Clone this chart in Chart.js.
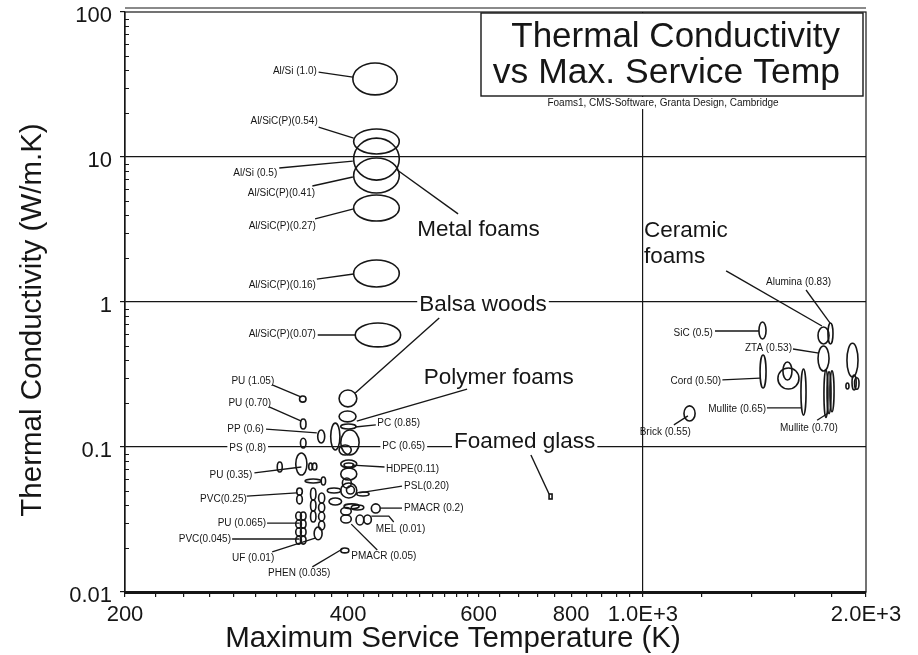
<!DOCTYPE html>
<html>
<head>
<meta charset="utf-8">
<script src="https://cdn.jsdelivr.net/npm/chart.js@4.4.1/dist/chart.umd.min.js"></script>
<style>
  html, body { margin: 0; padding: 0; background: #fff; }
  canvas { display: block; }
</style>
</head>
<body>
<canvas id="chart" width="918" height="655"></canvas>
<script>
// ranges: [T min, T max, k min, k max]  (K, W/m.K)
const metalFoams = [
  [406, 466, 26.8, 44.5],   // Al/Si (1.0)
  [407, 469, 10.5, 15.6],   // Al/SiC(P)(0.54)
  [407, 469, 6.93, 13.5],   // Al/Si (0.5)
  [407, 469, 5.65, 9.84],   // Al/SiC(P)(0.41)
  [407, 469, 3.62, 5.47],   // Al/SiC(P)(0.27)
  [407, 469, 1.27, 1.95],   // Al/SiC(P)(0.16)
  [409, 471, 0.49, 0.716]   // Al/SiC(P)(0.07)
];

const polymerFoams = [
  [389, 411, 0.189, 0.247], // balsa
  [389, 410, 0.149, 0.177],
  [391, 410, 0.133, 0.144], // PC (0.85)
  [379, 390, 0.0953, 0.146],
  [391, 414, 0.0881, 0.131], // PC (0.65)
  [389, 404, 0.0881, 0.1032],
  [391, 411, 0.0717, 0.0813],
  [395, 407, 0.0728, 0.0776], // HDPE
  [391, 411, 0.0592, 0.0717],
  [391, 411, 0.0445, 0.0565],
  [393, 404, 0.0522, 0.0611],
  [398, 408, 0.0474, 0.0538],
  [411, 427, 0.0459, 0.0489], // PSL
  [375, 391, 0.0482, 0.0522],
  [377, 392, 0.0398, 0.0445],
  [395, 414, 0.0375, 0.0405],
  [404, 420, 0.0368, 0.0398],
  [430, 442, 0.0351, 0.0405], // PMACR (0.2)
  [391, 404, 0.0340, 0.0383],
  [391, 404, 0.0299, 0.0340],
  [410, 420, 0.0290, 0.0340], // MEL
  [420, 430, 0.0294, 0.0340],
  [391, 401, 0.0186, 0.0201], // PHEN
  [360, 369, 0.0229, 0.0281], // UF
  [356, 362, 0.0431, 0.0522],
  [356, 362, 0.0362, 0.0431],
  [356, 362, 0.0304, 0.0362],
  [365, 372, 0.0411, 0.0482],
  [365, 372, 0.0356, 0.0411],
  [365, 372, 0.0309, 0.0356],
  [365, 372, 0.0268, 0.0309],
  [340, 346, 0.0314, 0.0356], // PU (0.065) / PVC (0.045)
  [340, 346, 0.0276, 0.0314],
  [340, 346, 0.0243, 0.0276],
  [340, 346, 0.0214, 0.0243],
  [345, 351, 0.0314, 0.0356],
  [345, 351, 0.0276, 0.0314],
  [345, 351, 0.0243, 0.0276],
  [345, 351, 0.0214, 0.0243],
  [341, 347, 0.0467, 0.0522], // PVC (0.25)
  [341, 347, 0.0405, 0.0467],
  [321, 326, 0.0672, 0.0788], // PU (0.35)
  [340, 352, 0.0641, 0.0909],
  [354, 358, 0.0694, 0.0776],
  [358, 363, 0.0694, 0.0776],
  [350, 368, 0.0565, 0.0601],
  [368, 373, 0.0547, 0.0621],
  [345, 351, 0.0984, 0.115],  // PS (0.8)
  [364, 372, 0.1066, 0.131],  // PP (0.6)
  [345, 351, 0.133, 0.156],   // PU (0.70)
  [344, 351, 0.204, 0.225]    // PU (1.05)
];

const glassFoams = [
  [747, 754, 0.0438, 0.0474]
];

const ceramicFoams = [
  [1434, 1466, 0.556, 0.728], // SiC (0.5)
  [1439, 1466, 0.255, 0.431], // Cord (0.50)
  [1136, 1176, 0.151, 0.192], // Brick (0.55)
  [1521, 1624, 0.251, 0.351],
  [1545, 1589, 0.290, 0.386],
  [1634, 1660, 0.166, 0.345], // Mullite (0.65)
  [1723, 1783, 0.513, 0.672],
  [1723, 1783, 0.334, 0.497], // ZTA (0.53)
  [1777, 1805, 0.513, 0.717], // Alumina (0.83)
  [1755, 1777, 0.160, 0.340], // Mullite (0.70)
  [1772, 1794, 0.170, 0.330],
  [1788, 1811, 0.175, 0.335],
  [1885, 1951, 0.304, 0.519],
  [1879, 1897, 0.251, 0.276],
  [1915, 1940, 0.247, 0.314],
  [1930, 1957, 0.250, 0.300]
];

const xMajor = [200, 400, 600, 800, 1000, 2000];
const xMajorLabels = ['200', '400', '600', '800', '1.0E+3', '2.0E+3'];
const xMinor = [220, 240, 260, 280, 300, 320, 340, 360, 380, 420, 440, 460, 480, 500, 520, 540, 560, 580,
                640, 680, 720, 760, 840, 880, 920, 960, 1200, 1400, 1600, 1800];
const yMajor = [0.01, 0.1, 1, 10, 100];
const yMajorLabels = ['0.01', '0.1', '1', '10', '100'];
const yMinor = [0.02, 0.03, 0.04, 0.05, 0.06, 0.07, 0.08, 0.09,
                0.2, 0.3, 0.4, 0.5, 0.6, 0.7, 0.8, 0.9,
                2, 3, 4, 5, 6, 7, 8, 9,
                20, 30, 40, 50, 60, 70, 80, 90];
const xGridAt = [1000];
const yGridAt = [0.1, 1, 10];

// callouts: text, anchor [T, k], alignment, leader polyline in data units
const smallNotes = [
  { text: 'Al/Si (1.0)', at: [363, 39.2], align: 'right', line: [[365, 38.5], [406, 35.6]] },
  { text: 'Al/SiC(P)(0.54)', at: [364, 17.7], align: 'right', line: [[365, 16.1], [407, 13.5]] },
  { text: 'Al/Si (0.5)', at: [321, 7.76], align: 'right', line: [[323, 8.40], [406, 9.38]] },
  { text: 'Al/SiC(P)(0.41)', at: [361, 5.65], align: 'right', line: [[358, 6.31], [406, 7.28]] },
  { text: 'Al/SiC(P)(0.27)', at: [362, 3.34], align: 'right', line: [[361, 3.74], [407, 4.38]] },
  { text: 'Al/SiC(P)(0.16)', at: [362, 1.31], align: 'right', line: [[363, 1.44], [407, 1.56]] },
  { text: 'Al/SiC(P)(0.07)', at: [362, 0.601], align: 'right', line: [[364, 0.592], [409, 0.592]] },
  { text: 'PU (1.05)', at: [318, 0.285], align: 'right', line: [[316, 0.268], [346, 0.221]] },
  { text: 'PU (0.70)', at: [315, 0.201], align: 'right', line: [[313, 0.189], [346, 0.151]] },
  { text: 'PP (0.6)', at: [308, 0.133], align: 'right', line: [[310, 0.133], [363, 0.125]] },
  { text: 'PS (0.8)', at: [310, 0.0985], align: 'right', bg: true },
  { text: 'PU (0.35)', at: [297, 0.0641], align: 'right', line: [[299, 0.0662], [346, 0.0728]] },
  { text: 'PVC(0.25)', at: [292, 0.0437], align: 'right', line: [[292, 0.0459], [341, 0.0482]] },
  { text: 'PU (0.065)', at: [310, 0.0299], align: 'right', line: [[311, 0.0299], [344, 0.0299]] },
  { text: 'PVC(0.045)', at: [278, 0.0232], align: 'right', line: [[279, 0.0232], [344, 0.0232]] },
  { text: 'UF (0.01)', at: [318, 0.0171], align: 'right', line: [[316, 0.0189], [362, 0.0236]] },
  { text: 'PHEN (0.035)', at: [312, 0.0135], align: 'left', line: [[358, 0.0149], [393, 0.0198]] },
  { text: 'PMACR (0.05)', at: [404, 0.0177], align: 'left', line: [[438, 0.0195], [404, 0.0294]] },
  { text: 'MEL (0.01)', at: [436, 0.0272], align: 'left', line: [[461, 0.0304], [454, 0.0334], [430, 0.0334]] },
  { text: 'PMACR (0.2)', at: [476, 0.0379], align: 'left', line: [[473, 0.0379], [442, 0.0379]] },
  { text: 'PSL(0.20)', at: [476, 0.0538], align: 'left', line: [[473, 0.0538], [414, 0.0482]] },
  { text: 'HDPE(0.11)', at: [450, 0.0705], align: 'left', line: [[448, 0.0728], [405, 0.0751]] },
  { text: 'PC (0.65)', at: [445, 0.1016], align: 'left', bg: true },
  { text: 'PC (0.85)', at: [438, 0.1466], align: 'left', line: [[436, 0.142], [409, 0.1374]] },
  { text: 'Alumina (0.83)', at: [1466, 1.374], align: 'left', line: [[1660, 1.21], [1789, 0.716]] },
  { text: 'SiC (0.5)', at: [1243, 0.611], align: 'right', line: [[1251, 0.631], [1434, 0.631]] },
  { text: 'ZTA (0.53)', at: [1589, 0.482], align: 'right', line: [[1594, 0.474], [1728, 0.444]] },
  { text: 'Cord (0.50)', at: [1275, 0.285], align: 'right', line: [[1280, 0.290], [1439, 0.299]] },
  { text: 'Mullite (0.65)', at: [1466, 0.183], align: 'right', line: [[1470, 0.186], [1634, 0.186]] },
  { text: 'Brick (0.55)', at: [990, 0.127], align: 'left', line: [[1101, 0.142], [1150, 0.164]] },
  { text: 'Mullite (0.70)', at: [1531, 0.135], align: 'left', line: [[1718, 0.153], [1777, 0.171]] }
];

const groupNotes = [
  { text: 'Metal foams', at: [496, 3.14], line: [[466, 8.13], [563, 4.05]] },
  { text: 'Balsa woods', at: [499, 0.953], bg: true, line: [[531, 0.776], [409, 0.236]] },
  { text: 'Polymer foams', at: [506, 0.299], line: [[579, 0.251], [411, 0.151]] },
  { text: 'Foamed glass', at: [556, 0.108], bg: true, line: [[706, 0.0881], [747, 0.0474]] },
  { text: 'Ceramic', at: [1003, 3.09], line: [[1295, 1.64], [1744, 0.683]] },
  { text: 'foams', at: [1003, 2.04] }
];

const FONT = '"Liberation Sans", Arial, Helvetica, sans-serif';
const ink = '#161616';
Chart.defaults.font.family = FONT;
Chart.defaults.color = ink;

function toPx(chart, p) {
  return [chart.scales.x.getPixelForValue(p[0]), chart.scales.y.getPixelForValue(p[1])];
}

function drawNote(ctx, chart, n, size) {
  ctx.font = size + 'px ' + FONT;
  if (n.line) {
    ctx.beginPath();
    n.line.forEach((p, i) => {
      const [px, py] = toPx(chart, p);
      if (i === 0) ctx.moveTo(px, py); else ctx.lineTo(px, py);
    });
    ctx.stroke();
  }
  const [ax, ay] = toPx(chart, n.at);
  const align = n.align || 'left';
  const w = ctx.measureText(n.text).width;
  if (n.bg) {
    const left = align === 'right' ? ax - w : ax;
    ctx.fillStyle = '#fff';
    ctx.fillRect(left - 2, ay - size * 0.45, w + 4, size * 0.9);
  }
  ctx.fillStyle = ink;
  ctx.textAlign = align;
  ctx.textBaseline = 'middle';
  ctx.fillText(n.text, ax, ay);
}

const mapPlugin = {
  id: 'ashbyMap',
  afterDatasetsDraw(chart) {
    const { ctx, chartArea: a, scales: { x, y } } = chart;
    ctx.save();
    ctx.strokeStyle = ink;
    ctx.lineWidth = 1.2;
    ctx.strokeRect(a.left, a.top, a.right - a.left, a.bottom - a.top);
    ctx.beginPath();
    ctx.moveTo(a.left, a.top - 4);
    ctx.lineTo(a.right, a.top - 4);
    ctx.stroke();

    // minor ticks on the conductivity axis point inwards
    ctx.lineWidth = 1;
    ctx.beginPath();
    yMinor.forEach(v => {
      const py = Math.round(y.getPixelForValue(v)) + 0.5;
      ctx.moveTo(a.left, py);
      ctx.lineTo(a.left + 4, py);
    });
    ctx.stroke();

    // property envelopes
    ctx.lineWidth = 1.6;
    [metalFoams, polymerFoams, ceramicFoams].forEach(group => {
      group.forEach(([t0, t1, k0, k1]) => {
        const x0 = x.getPixelForValue(t0), x1 = x.getPixelForValue(t1);
        const y0 = y.getPixelForValue(k0), y1 = y.getPixelForValue(k1);
        ctx.beginPath();
        ctx.ellipse((x0 + x1) / 2, (y0 + y1) / 2, Math.max((x1 - x0) / 2, 1), Math.max((y0 - y1) / 2, 1), 0, 0, Math.PI * 2);
        ctx.stroke();
      });
    });
    glassFoams.forEach(([t0, t1, k0, k1]) => {
      const x0 = x.getPixelForValue(t0), x1 = x.getPixelForValue(t1);
      const y0 = y.getPixelForValue(k0), y1 = y.getPixelForValue(k1);
      ctx.strokeRect(x0, y1, x1 - x0, y0 - y1);
    });

    // callouts
    ctx.lineWidth = 1.3;
    smallNotes.forEach(n => drawNote(ctx, chart, n, 10));
    ctx.lineWidth = 1.4;
    groupNotes.forEach(n => drawNote(ctx, chart, n, 22.5));

    // title box
    const bx = 481, by = a.top + 1, bw = a.right - 3 - bx, bh = 96 - by;
    ctx.fillStyle = '#fff';
    ctx.fillRect(bx, by, bw, bh);
    ctx.lineWidth = 1.4;
    ctx.strokeRect(bx, by, bw, bh);
    ctx.fillStyle = ink;
    ctx.textAlign = 'right';
    ctx.textBaseline = 'alphabetic';
    ctx.font = '35px ' + FONT;
    ctx.fillText('Thermal Conductivity', 840, 47);
    ctx.font = '35.5px ' + FONT;
    ctx.fillText('vs Max. Service Temp', 840, 83);
    ctx.font = '10px ' + FONT;
    const sub = 'Foams1, CMS-Software, Granta Design, Cambridge';
    const sw = ctx.measureText(sub).width;
    ctx.fillStyle = '#fff';
    ctx.fillRect(663 - sw / 2 - 2, 97, sw + 4, 12);
    ctx.fillStyle = ink;
    ctx.textAlign = 'center';
    ctx.fillText(sub, 663, 106);

    // axis titles
    ctx.font = '29.5px ' + FONT;
    ctx.textBaseline = 'middle';
    ctx.fillText('Maximum Service Temperature (K)', 453, 639);
    ctx.translate(33, 320);
    ctx.rotate(-Math.PI / 2);
    ctx.fillText('Thermal Conductivity (W/m.K)', 0, 0);
    ctx.restore();
  }
};

new Chart(document.getElementById('chart'), {
  type: 'scatter',
  data: { datasets: [] },
  options: {
    responsive: false,
    animation: false,
    layout: { padding: { top: 12, right: 52, left: 0, bottom: 0 } },
    plugins: { legend: { display: false }, tooltip: { enabled: false } },
    scales: {
      x: {
        type: 'logarithmic',
        min: 200,
        max: 2000,
        afterBuildTicks: s => { s.ticks = xMajor.concat(xMinor).sort((a, b) => a - b).map(v => ({ value: v })); },
        afterFit: s => { s.height = 63; },
        ticks: {
          autoSkip: false,
          maxRotation: 0,
          padding: 7,
          color: ink,
          font: { size: 22, lineHeight: 1 },
          callback: v => { const i = xMajor.indexOf(v); return i >= 0 ? xMajorLabels[i] : ''; }
        },
        grid: {
          color: c => (c.tick && xGridAt.includes(c.tick.value)) ? ink : 'rgba(0,0,0,0)',
          tickColor: ink,
          tickLength: 5,
          lineWidth: 1.2
        },
        border: { color: ink, width: 3 }
      },
      y: {
        type: 'logarithmic',
        min: 0.01,
        max: 100,
        afterBuildTicks: s => { s.ticks = yMajor.concat(yMinor).sort((a, b) => a - b).map(v => ({ value: v })); },
        afterFit: s => { s.width = 125; s.paddingTop = 6; s.paddingBottom = 6; },
        ticks: {
          autoSkip: false,
          padding: 8,
          labelOffset: 4,
          color: ink,
          font: { size: 22, lineHeight: 1 },
          callback: v => { const i = yMajor.indexOf(v); return i >= 0 ? yMajorLabels[i] : ''; }
        },
        grid: {
          color: c => (c.tick && yGridAt.includes(c.tick.value)) ? ink : 'rgba(0,0,0,0)',
          tickColor: c => (c.tick && yMajor.includes(c.tick.value)) ? ink : 'rgba(0,0,0,0)',
          tickLength: 5,
          lineWidth: 1.2
        },
        border: { color: ink, width: 1.2 }
      }
    }
  },
  plugins: [mapPlugin]
});
</script>
</body>
</html>
